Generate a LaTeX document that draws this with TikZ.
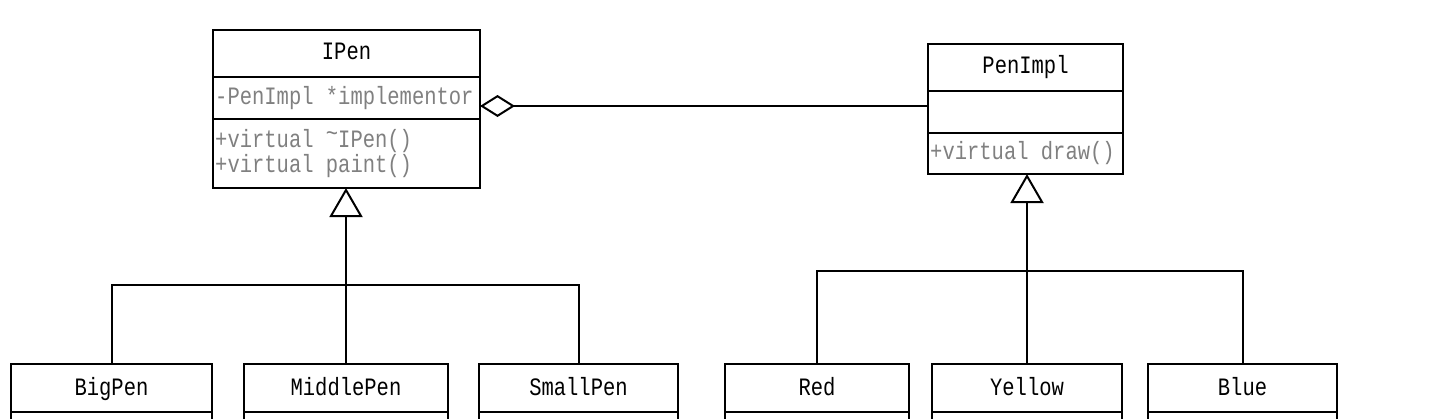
\documentclass[tikz,border=0pt]{standalone}
\usepackage{fontspec}
\newfontfamily\umlface[FakeStretch=0.82]{Liberation Mono}
\newcommand\umlfont{\umlface\fontsize{25}{25}\selectfont}
\usetikzlibrary{arrows.meta}
\tikzset{
  box/.style={draw, line width=2pt, rectangle, inner sep=0pt, outer sep=0pt, anchor=north west},
  title/.style={font=\umlfont, anchor=base, inner sep=0pt},
  member/.style={font=\umlfont, text=black!50, anchor=base west, inner sep=0pt},
  link/.style={line width=2pt},
  gen/.style={link, -{Triangle[open, length=29pt, width=33pt, line width=2pt]}},
  agg/.style={link, -{Diamond[open, length=35pt, width=22pt, line width=2pt]}},
}
\begin{document}
\begin{tikzpicture}[x=1pt,y=-1pt]
\useasboundingbox (0,0) rectangle (1453,418);
\clip (0,0) rectangle (1453,418);
\fill[white] (0,0) rectangle (1453,418);

% IPen
\node[box, minimum width=267pt, minimum height=158pt] (ipen) at (213,30) {};
\draw[link] (ipen.west |- 0,77) -- (ipen.east |- 0,77);
\draw[link] (ipen.west |- 0,119) -- (ipen.east |- 0,119);
\node[title] (ipenT) at (346.5,59) {IPen};
\node[member] (ipenA) at (215,104) {-PenImpl *implementor};
\node[member] (ipenO1) at (215,147) {+virtual \raisebox{0.22em}{\textasciitilde}IPen()};
\node[member] (ipenO2) at (215,172) {+virtual paint()};

% PenImpl
\node[box, minimum width=195pt, minimum height=130pt] (penimpl) at (928,44) {};
\draw[link] (penimpl.west |- 0,91) -- (penimpl.east |- 0,91);
\draw[link] (penimpl.west |- 0,133) -- (penimpl.east |- 0,133);
\node[title] (penimplT) at (1025.5,73) {PenImpl};
\node[member] (penimplO) at (930,159) {+virtual draw()};

% concrete pens
\node[box, minimum width=201pt, minimum height=96pt] (bigpen) at (11,364) {};
\node[box, minimum width=204pt, minimum height=96pt] (middlepen) at (244,364) {};
\node[box, minimum width=199pt, minimum height=96pt] (smallpen) at (479,364) {};
% implementors
\node[box, minimum width=184pt, minimum height=96pt] (red) at (725,364) {};
\node[box, minimum width=190pt, minimum height=96pt] (yellow) at (932,364) {};
\node[box, minimum width=189pt, minimum height=96pt] (blue) at (1148,364) {};
\foreach \b in {bigpen,middlepen,smallpen,red,yellow,blue}
  \draw[link] (\b.west |- 0,412) -- (\b.east |- 0,412);
\node[title] (bigpenT) at (111.5,395) {BigPen};
\node[title] (middlepenT) at (346,395) {MiddlePen};
\node[title] (smallpenT) at (578.5,395) {SmallPen};
\node[title] (redT) at (817,395) {Red};
\node[title] (yellowT) at (1027,395) {Yellow};
\node[title] (blueT) at (1242.5,395) {Blue};

% aggregation
\coordinate (aggY) at (0,106);
\draw[agg] (penimpl.west |- aggY) -- (ipen.east |- aggY);

% generalization, left
\coordinate (busL) at (0,285);
\draw[link] (bigpen.north) |- (busL -| smallpen.north) -- (smallpen.north);
\draw[gen, line width=2.6pt] (middlepen.north) -- (middlepen.north |- ipen.south);
% generalization, right
\coordinate (busR) at (0,271);
\draw[link] (red.north) |- (busR -| blue.north) -- (blue.north);
\draw[gen] (yellow.north) -- (yellow.north |- penimpl.south);
\end{tikzpicture}
\end{document}
